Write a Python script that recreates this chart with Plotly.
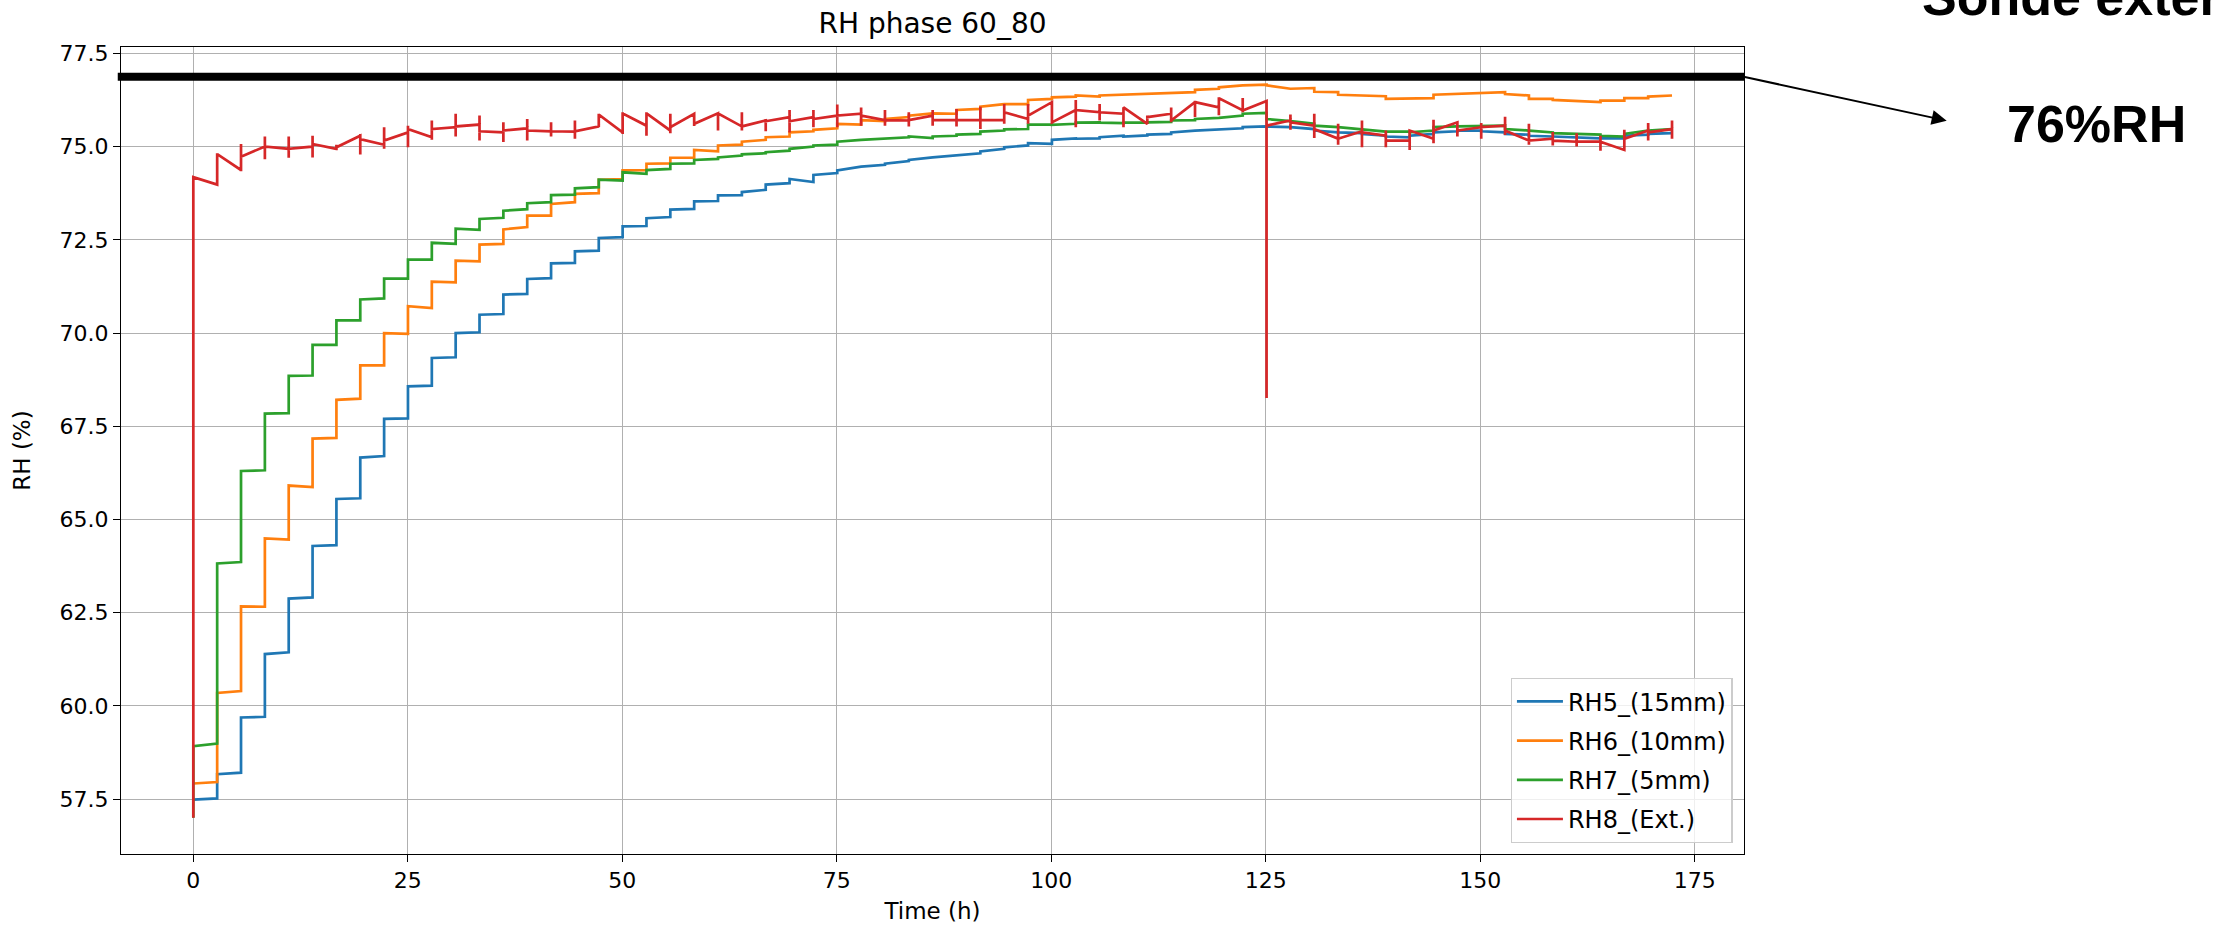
import plotly.graph_objects as go

# ---------------- data ----------------
# boundaries of the ~2.78 h measurement steps (h)
TIME_H = [0.0, 2.78, 5.56, 8.34, 11.12, 13.9, 16.68, 19.46, 22.24, 25.02,
          27.8, 30.58, 33.36, 36.14, 38.92, 41.7, 44.48, 47.26, 50.04, 52.82,
          55.6, 58.38, 61.16, 63.94, 66.72, 69.5, 72.28, 75.06, 77.84, 80.62,
          83.4, 86.18, 88.96, 91.74, 94.52, 97.3, 100.08, 102.86, 105.64, 108.42,
          111.2, 113.98, 116.76, 119.54, 122.32, 125.1, 127.88, 130.66, 133.44, 136.22,
          139.0, 141.78, 144.56, 147.34, 150.12, 152.9, 155.68, 158.46, 161.24, 164.02,
          166.8, 169.58, 172.36]

# value at start / end of each step
RH5_START = [57.49, 58.17, 59.69, 61.39, 62.88, 64.29, 65.55, 66.66, 67.70, 68.57,
             69.33, 70.00, 70.49, 71.03, 71.45, 71.87, 72.19, 72.55, 72.86, 73.08,
             73.31, 73.53, 73.69, 73.78, 73.98, 74.13, 74.24, 74.36, 74.46, 74.54,
             74.64, 74.71, 74.78, 74.87, 74.98, 75.09, 75.18, 75.21, 75.25, 75.27,
             75.32, 75.38, 75.43, 75.45, 75.52, 75.54, 75.52, 75.43, 75.38, 75.34,
             75.27, 75.29, 75.38, 75.43, 75.41, 75.34, 75.29, 75.27, 75.23, 75.22,
             75.29, 75.34]
RH5_END = [57.52, 58.21, 59.71, 61.44, 62.91, 64.31, 65.57, 66.70, 67.71, 68.59,
           69.35, 70.02, 70.51, 71.05, 71.47, 71.88, 72.21, 72.57, 72.87, 73.11,
           73.33, 73.54, 73.70, 73.84, 74.02, 74.05, 74.29, 74.45, 74.51, 74.61,
           74.71, 74.76, 74.82, 74.94, 75.03, 75.07, 75.22, 75.22, 75.29, 75.30,
           75.34, 75.43, 75.47, 75.49, 75.54, 75.52, 75.47, 75.38, 75.36, 75.29,
           75.25, 75.34, 75.41, 75.43, 75.38, 75.32, 75.27, 75.25, 75.22, 75.22,
           75.32, 75.36]

RH6_START = [57.92, 60.35, 62.67, 64.49, 65.91, 67.17, 68.21, 69.13, 70.00, 70.72,
             71.38, 71.94, 72.37, 72.78, 73.15, 73.46, 73.73, 74.11, 74.36, 74.54,
             74.70, 74.91, 75.03, 75.13, 75.25, 75.38, 75.45, 75.61, 75.71, 75.74,
             75.83, 75.89, 75.98, 76.07, 76.14, 76.25, 76.32, 76.37, 76.37, 76.41,
             76.41, 76.43, 76.52, 76.59, 76.64, 76.64, 76.55, 76.47, 76.39, 76.37,
             76.28, 76.28, 76.39, 76.43, 76.43, 76.41, 76.28, 76.25, 76.21, 76.23,
             76.30, 76.34]
RH6_END = [57.96, 60.40, 62.66, 64.46, 65.87, 67.19, 68.24, 69.13, 69.98, 70.67,
           71.36, 71.92, 72.39, 72.84, 73.15, 73.51, 73.75, 74.13, 74.37, 74.55,
           74.70, 74.87, 75.05, 75.18, 75.27, 75.41, 75.49, 75.59, 75.68, 75.79,
           75.89, 75.88, 76.01, 76.14, 76.14, 76.28, 76.34, 76.34, 76.39, 76.41,
           76.43, 76.46, 76.55, 76.64, 76.66, 76.55, 76.57, 76.46, 76.37, 76.35,
           76.28, 76.30, 76.41, 76.43, 76.46, 76.37, 76.28, 76.23, 76.19, 76.23,
           76.30, 76.37]

RH7_FIRST = 57.0
RH7_START = [58.92, 63.82, 66.30, 67.84, 68.85, 69.68, 70.34, 70.90, 71.46, 71.97,
             72.42, 72.80, 73.06, 73.28, 73.48, 73.70, 73.88, 74.11, 74.31, 74.37,
             74.54, 74.64, 74.71, 74.79, 74.85, 74.94, 75.03, 75.13, 75.18, 75.22,
             75.27, 75.27, 75.32, 75.40, 75.46, 75.59, 75.58, 75.64, 75.64, 75.64,
             75.65, 75.70, 75.74, 75.77, 75.88, 75.74, 75.68, 75.56, 75.52, 75.45,
             75.40, 75.38, 75.52, 75.54, 75.56, 75.47, 75.43, 75.36, 75.34, 75.29,
             75.34, 75.43]
RH7_END = [58.99, 63.86, 66.32, 67.85, 68.86, 69.68, 70.34, 70.93, 71.46, 71.97,
           72.39, 72.77, 73.09, 73.32, 73.51, 73.71, 73.91, 74.09, 74.27, 74.40,
           74.55, 74.67, 74.76, 74.82, 74.89, 75.00, 75.05, 75.18, 75.21, 75.25,
           75.23, 75.29, 75.34, 75.43, 75.47, 75.59, 75.61, 75.65, 75.63, 75.64,
           75.66, 75.71, 75.77, 75.83, 75.90, 75.70, 75.61, 75.52, 75.47, 75.41,
           75.40, 75.43, 75.54, 75.56, 75.56, 75.45, 75.38, 75.34, 75.32, 75.27,
           75.41, 75.47]

RH8_START = [74.18, 74.80, 74.73, 75.00, 74.94, 75.07, 74.98, 75.20, 75.16, 75.47,
             75.47, 75.54, 75.41, 75.43, 75.43, 75.41, 75.41, 75.86, 75.89, 75.89,
             75.52, 75.61, 75.89, 75.54, 75.68, 75.68, 75.74, 75.83, 75.83, 75.71,
             75.71, 75.71, 75.71, 75.71, 75.92, 75.83, 75.65, 75.98, 75.92, 76.05,
             75.79, 75.70, 76.19, 76.30, 75.97, 75.56, 75.65, 75.47, 75.21, 75.38,
             75.16, 75.43, 75.43, 75.43, 75.52, 75.43, 75.16, 75.16, 75.13, 75.13,
             75.21, 75.38]
RH8_END = [73.98, 74.37, 75.00, 74.94, 75.00, 74.94, 75.29, 75.05, 75.38, 75.25,
           75.52, 75.59, 75.38, 75.49, 75.41, 75.40, 75.54, 75.38, 75.56, 75.43,
           75.88, 75.89, 75.54, 75.70, 75.79, 75.79, 75.83, 75.88, 75.71, 75.70,
           75.83, 75.71, 75.71, 75.71, 75.74, 76.19, 75.98, 75.92, 75.88, 75.61,
           75.88, 76.19, 76.05, 75.97, 76.22, 75.70, 75.56, 75.21, 75.41, 75.29,
           75.16, 75.21, 75.65, 75.52, 75.56, 75.16, 75.21, 75.13, 75.13, 74.91,
           75.43, 75.47]
# spread of the readings at each step boundary (low, high)
RH8_LOW = [57.00, 73.98, 74.34, 74.66, 74.70, 74.71, 74.90, 74.79, 74.94, 74.98,
           75.18, 75.27, 75.16, 75.12, 75.16, 75.27, 75.21, 75.52, 75.34, 75.29,
           75.36, 75.55, 75.43, 75.43, 75.41, 75.38, 75.52, 75.52, 75.56, 75.56,
           75.54, 75.56, 75.54, 75.47, 75.61, 75.61, 75.61, 75.52, 75.70, 75.52,
           75.61, 75.65, 75.79, 75.84, 75.92, 68.26, 75.45, 75.23, 75.05, 74.98,
           74.98, 74.91, 75.09, 75.27, 75.21, 75.31, 75.05, 75.03, 75.00, 74.89,
           74.91, 75.16, 75.21]
RH8_HIGH = [74.18, 74.82, 75.07, 75.27, 75.27, 75.29, 75.05, 75.34, 75.52, 75.56,
            75.70, 75.88, 75.83, 75.65, 75.74, 75.65, 75.70, 75.88, 75.92, 75.92,
            75.88, 75.90, 75.92, 75.92, 75.74, 75.98, 75.98, 76.13, 76.05, 75.98,
            75.92, 75.98, 76.01, 76.07, 76.14, 76.14, 76.23, 76.25, 76.14, 76.05,
            75.83, 76.05, 76.23, 76.32, 76.30, 76.22, 75.86, 75.88, 75.61, 75.70,
            75.43, 75.43, 75.72, 75.68, 75.63, 75.80, 75.61, 75.39, 75.36, 75.29,
            75.45, 75.63, 75.70]

SERIES_NAMES = ["RH5_(15mm)", "RH6_(10mm)", "RH7_(5mm)", "RH8_(Ext.)"]
COLORS = ["#1f77b4", "#ff7f0e", "#2ca02c", "#d62728"]

X_TICKS = [0, 25, 50, 75, 100, 125, 150, 175]
Y_TICKS = [57.5, 60.0, 62.5, 65.0, 67.5, 70.0, 72.5, 75.0, 77.5]
REF_RH = 76.87           # thick reference line drawn over the chart
REF_LABEL = "76%RH"
PROBE_LABEL = "Sonde externe"


def step_path(T, S, E, low=None, high=None, first=None):
    xs, ys = [], []
    if first is not None:
        xs.append(T[0]); ys.append(first)
    for n in range(len(S)):
        if low is not None:
            xs += [T[n], T[n]]; ys += [low[n], high[n]]
        xs += [T[n], T[n + 1]]; ys += [S[n], E[n]]
    if low is not None:
        xs += [T[-1], T[-1]]; ys += [low[-1], high[-1]]
    return xs, ys


paths = [
    step_path(TIME_H, RH5_START, RH5_END),
    step_path(TIME_H, RH6_START, RH6_END),
    step_path(TIME_H, RH7_START, RH7_END, first=RH7_FIRST),
    step_path(TIME_H, RH8_START, RH8_END, RH8_LOW, RH8_HIGH),
]

FONT = "DejaVu Sans"
fig = go.Figure()
for (xs, ys), name, col in zip(paths, SERIES_NAMES, COLORS):
    fig.add_trace(go.Scatter(x=xs, y=ys, mode="lines", name=name, legendgroup=name,
                             line=dict(color=col, width=2.7)))

# geometry of the plot area in pixels
L, R, T_, B = 121, 469, 47, 74
W, H = 2213, 928
PW, PH = W - L - R, H - T_ - B


def px_x(x):
    return (x - L) / PW


def px_y(y):
    return (H - B - y) / PH


axis_common = dict(showline=True, mirror=True, linecolor="black", linewidth=1.1,
                   ticks="outside", ticklen=7, tickwidth=1.1, tickcolor="black",
                   showgrid=True, gridcolor="#b0b0b0", gridwidth=1.1, zeroline=False,
                   tickfont=dict(family=FONT, size=22, color="black"))

fig.update_layout(
    width=W, height=H,
    margin=dict(l=L, r=R, t=T_, b=B, autoexpand=False),
    plot_bgcolor="white", paper_bgcolor="white",
    font=dict(family=FONT, color="black"),
    title=dict(text="RH phase 60_80", x=0.5, xref="paper", xanchor="center",
               y=1 - 23 / H, yref="container", yanchor="middle",
               font=dict(family=FONT, size=28, color="black")),
    xaxis=dict(range=[-8.43, 180.75], tickvals=X_TICKS,
               title=dict(text="Time (h)", standoff=10,
                          font=dict(family=FONT, size=23, color="black")),
               **axis_common),
    yaxis=dict(range=[56.03, 77.67], tickvals=Y_TICKS, tickformat=".1f",
               title=dict(text="RH (%)", standoff=22,
                          font=dict(family=FONT, size=23, color="black")),
               **axis_common),
    legend=dict(x=0.993, y=0.0136, xanchor="right", yanchor="bottom",
                bgcolor="rgba(255,255,255,0.8)", bordercolor="#cccccc", borderwidth=1.3,
                itemwidth=46, tracegroupgap=5,
                font=dict(family=FONT, size=24, color="black")),
    showlegend=True,
)

fig.add_shape(type="line", xref="paper", x0=-0.002, x1=1.0, yref="y",
              y0=REF_RH, y1=REF_RH, line=dict(color="black", width=8))

fig.add_annotation(xref="paper", yref="paper", x=px_x(1946.7), y=px_y(120.7),
                   ax=-203.4, ay=-44, axref="pixel", ayref="pixel", text="",
                   showarrow=True, arrowhead=2, arrowsize=1.5, arrowwidth=2,
                   arrowcolor="black", standoff=0, startstandoff=0)
fig.add_annotation(xref="paper", yref="paper", x=px_x(2096), y=px_y(123.5),
                   xanchor="center", yanchor="middle", showarrow=False,
                   text="<b>" + REF_LABEL + "</b>",
                   font=dict(family="Liberation Sans", size=52, color="black"))
fig.add_annotation(xref="paper", yref="paper", x=px_x(1920), y=px_y(-2.6),
                   xanchor="left", yanchor="middle", showarrow=False,
                   text="<b>" + PROBE_LABEL + "</b>",
                   font=dict(family="Liberation Sans", size=52, color="black"))

fig.write_html("out.html")
